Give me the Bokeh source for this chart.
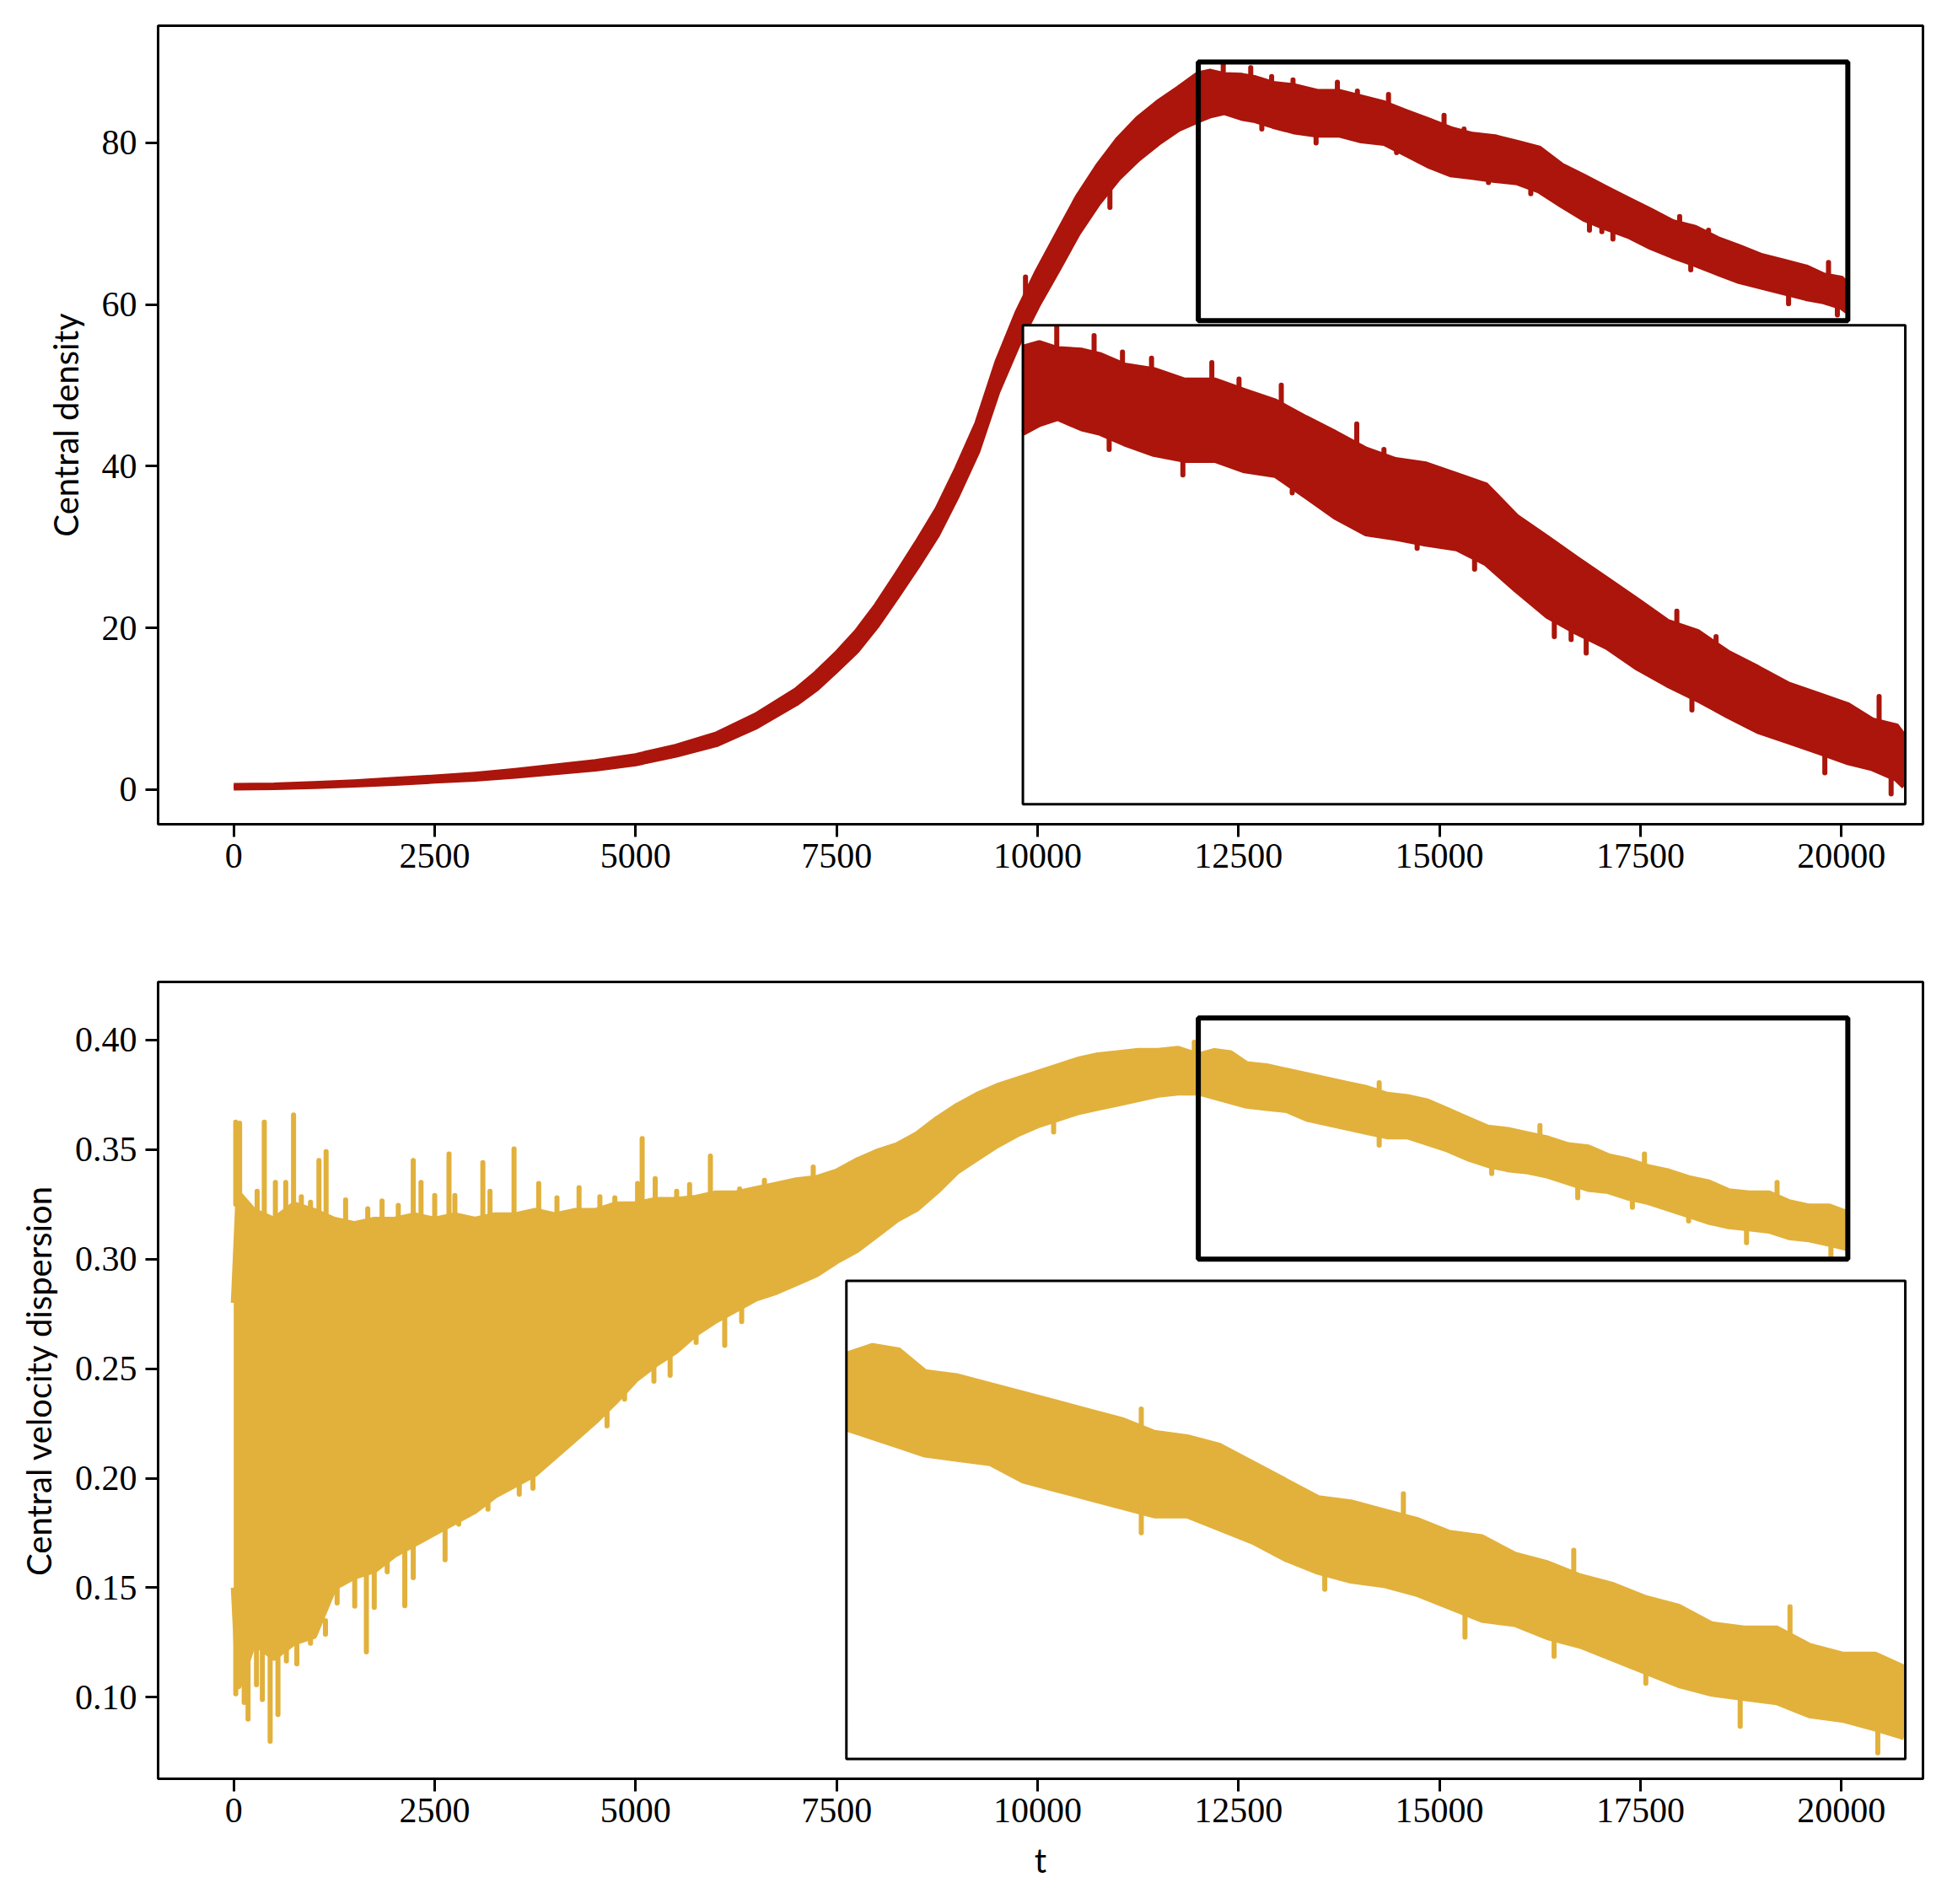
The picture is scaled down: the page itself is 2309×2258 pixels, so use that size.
import numpy as np
from bokeh.plotting import figure
from bokeh.models import Range1d, FixedTicker, PrintfTickFormatter
from bokeh.layouts import column
from bokeh.embed import file_html
from bokeh.resources import INLINE

# ---------------- data ----------------
# Central density: time samples with lower / upper edge of the noisy trace
t_rho = [0, 500, 1000, 1500, 2000, 2500, 3000, 3500, 4000, 4500, 5000, 5500, 6000, 6500,
         7000, 7250, 7500, 7750, 8000, 8250, 8500, 8750, 9000, 9250, 9500, 9750, 10000,
         10250, 10500, 10750, 11000, 11250, 11500, 11750, 12000, 12150, 12320, 12540, 12710,
         12930, 13200, 13480, 13760, 14030, 14310, 14590, 14860, 15140, 15410, 15690, 15970,
         16240, 16520, 16800, 17070, 17350, 17630, 17900, 18180, 18460, 18730, 19010, 19290,
         19560, 19780, 20000, 20070]
rho_lo = [0.25, 0.3, 0.42, 0.6, 0.82, 1.1, 1.35, 1.7, 2.15, 2.6, 3.25, 4.3, 5.6, 7.8,
          10.7, 12.5, 14.8, 17.2, 20.3, 23.9, 27.6, 31.5, 36.4, 41.8, 49.2, 55.0, 59.9,
          64.3, 68.8, 72.5, 75.6, 78.0, 80.0, 81.7, 82.8, 83.4, 83.8, 83.1, 82.8,
          82.1, 81.4, 81.0, 81.0, 80.3, 80.0, 78.6, 77.2, 76.1, 75.8, 75.4, 75.1,
          74.1, 72.3, 70.6, 69.5, 68.5, 67.1, 66.0, 65.0, 63.9, 62.9, 62.2, 61.5,
          60.8, 60.4, 59.7, 59.2]
rho_hi = [0.45, 0.5, 0.68, 0.9, 1.2, 1.5, 1.85, 2.3, 2.85, 3.4, 4.15, 5.3, 6.8, 9.2,
          12.3, 14.4, 16.8, 19.5, 22.8, 26.6, 30.5, 34.6, 39.7, 45.3, 52.9, 59.0, 64.1,
          68.7, 73.3, 77.1, 80.4, 83.0, 85.0, 86.7, 88.5, 88.8, 88.4, 88.3, 88.0,
          87.3, 87.0, 86.3, 86.3, 85.6, 84.9, 83.8, 82.8, 81.7, 81.0, 80.7, 80.0,
          79.3, 77.2, 75.8, 74.4, 73.0, 71.6, 70.2, 69.5, 68.1, 67.1, 66.0, 65.3,
          64.6, 63.6, 63.2, 62.5]
# isolated spikes of the density trace: time, start value, tip value
spk_rho_t = [9850, 12310, 12652, 12912, 13178, 13730, 13979, 14366, 15057, 15306, 17988,
             18347, 19840,
             10900, 12790, 13465, 14466, 15610, 16136, 16866, 17020, 17158, 18126, 19343,
             19950]
spk_rho_a = [60.5, 88.0, 87.8, 87.0, 86.5, 86.0, 85.3, 84.6, 81.8, 80.9, 69.8,
             68.8, 63.3,
             75.0, 82.6, 81.0, 79.0, 75.5, 74.6, 70.4, 69.9, 69.3, 65.2, 61.4,
             59.9]
spk_rho_b = [63.4, 89.86, 89.3, 88.2, 87.8, 87.5, 86.4, 86.0, 83.4, 81.7, 70.9,
             69.2, 65.2,
             72.0, 81.7, 80.0, 78.8, 75.1, 73.7, 69.2, 69.0, 68.1, 64.3, 60.1,
             58.7]

# Central velocity dispersion
t_sig = [0, 60, 250, 500, 750, 1000, 1250, 1500, 1750, 2000, 2250, 2500, 2750, 3000,
         3250, 3500, 3750, 4000, 4250, 4500, 4750, 5000, 5250, 5500, 5750, 6000, 6250,
         6500, 6750, 7000, 7250, 7500, 7750, 8000, 8250, 8500, 8750, 9000, 9250, 9500,
         9750, 10000, 10250, 10500, 10750, 11000, 11250, 11500, 11750, 12000, 12200,
         12400, 12600, 12850, 13100, 13350, 13600, 13850, 14100, 14350, 14600, 14850,
         15100, 15350, 15600, 15850, 16100, 16350, 16600, 16850, 17100, 17350, 17600,
         17850, 18100, 18350, 18600, 18850, 19100, 19350, 19600, 19850, 20070]
sig_lo = [0.150, 0.105, 0.125, 0.118, 0.125, 0.128, 0.150, 0.155, 0.158, 0.165, 0.170,
          0.175, 0.180, 0.185, 0.192, 0.197, 0.202, 0.210, 0.218, 0.226, 0.235, 0.245,
          0.252, 0.258, 0.266, 0.272, 0.277, 0.282, 0.285, 0.289, 0.293, 0.299, 0.304,
          0.311, 0.318, 0.323, 0.331, 0.340, 0.346, 0.352, 0.357, 0.361, 0.364, 0.367,
          0.369, 0.371, 0.373, 0.375, 0.376, 0.376, 0.374, 0.372, 0.370, 0.369, 0.368,
          0.364, 0.362, 0.360, 0.358, 0.356, 0.356, 0.353, 0.350, 0.346, 0.343, 0.341,
          0.340, 0.338, 0.335, 0.332, 0.331, 0.328, 0.326, 0.323, 0.320, 0.317, 0.315,
          0.314, 0.313, 0.310, 0.309, 0.307, 0.305]
sig_hi = [0.280, 0.330, 0.322, 0.318, 0.325, 0.322, 0.318, 0.316, 0.318, 0.318, 0.320,
          0.318, 0.320, 0.318, 0.320, 0.320, 0.322, 0.320, 0.322, 0.322, 0.325, 0.325,
          0.327, 0.327, 0.328, 0.330, 0.330, 0.332, 0.334, 0.336, 0.337, 0.340, 0.345,
          0.349, 0.352, 0.357, 0.364, 0.370, 0.375, 0.379, 0.382, 0.385, 0.388, 0.391,
          0.393, 0.394, 0.395, 0.395, 0.396, 0.393, 0.395, 0.394, 0.389, 0.388, 0.386,
          0.384, 0.382, 0.380, 0.378, 0.375, 0.374, 0.372, 0.368, 0.364, 0.360, 0.359,
          0.357, 0.355, 0.352, 0.351, 0.347, 0.345, 0.342, 0.340, 0.337, 0.335, 0.331,
          0.330, 0.330, 0.326, 0.324, 0.324, 0.321]
spk_sig_t = [25, 73, 194, 291, 380, 518, 647, 744, 841, 955, 1060, 1149, 1392, 1667, 1845,
             2047, 2233, 2330, 2500, 2678, 2751, 3099, 3188, 3487, 3794, 4021, 4296, 4555,
             4741, 5024, 5081, 5243, 5510, 5671, 5930, 6294, 6602, 7209, 11950, 14250,
             16250, 17550, 19200,
             25, 130, 178, 283, 356, 453, 550, 655, 785, 955, 1141, 1286, 1505, 1650, 1748,
             1909, 2128, 2233, 2629, 2799, 3163, 3552, 3722, 4644, 4862, 5227, 5429, 5752,
             6108, 6319, 10200, 14250, 15650, 16720, 17400, 18100, 18820, 19870]
spk_sig_a = [0.325, 0.325, 0.318, 0.318, 0.318, 0.315, 0.318, 0.318, 0.318, 0.318, 0.318,
             0.318, 0.315, 0.315, 0.315, 0.315, 0.316, 0.316, 0.315, 0.316, 0.316, 0.315,
             0.316, 0.316, 0.318, 0.316, 0.318, 0.318, 0.320, 0.320, 0.320, 0.322, 0.322,
             0.323, 0.325, 0.326, 0.328, 0.333, 0.392, 0.374, 0.354, 0.341, 0.327,
             0.130, 0.130, 0.130, 0.130, 0.130, 0.125, 0.125, 0.130, 0.130, 0.135, 0.135,
             0.155, 0.160, 0.160, 0.162, 0.165, 0.172, 0.175, 0.182, 0.184, 0.192, 0.200,
             0.205, 0.232, 0.242, 0.252, 0.258, 0.268, 0.276, 0.281, 0.366, 0.359, 0.345,
             0.336, 0.330, 0.322, 0.316, 0.309]
spk_sig_b = [0.3625, 0.362, 0.3245, 0.331, 0.3625, 0.335, 0.335, 0.3658, 0.3285, 0.326,
             0.345, 0.349, 0.327, 0.323, 0.3265, 0.3245, 0.345, 0.335, 0.329, 0.348, 0.329,
             0.344, 0.331, 0.3503, 0.3345, 0.328, 0.3326, 0.3285, 0.328, 0.3345, 0.355,
             0.3367, 0.331, 0.334, 0.347, 0.332, 0.336, 0.342, 0.399, 0.3805, 0.361, 0.348,
             0.335,
             0.1016, 0.0976, 0.090, 0.1057, 0.099, 0.0799, 0.0921, 0.1166, 0.1152, 0.1247,
             0.1288, 0.143, 0.1416, 0.1207, 0.141, 0.1573, 0.1418, 0.1546, 0.1628, 0.179,
             0.1859, 0.1927, 0.1954, 0.2239, 0.2361, 0.2443, 0.247, 0.262, 0.2606, 0.2715,
             0.358, 0.352, 0.339, 0.328, 0.3236, 0.3174, 0.3075, 0.3014]

x_ticks = [0, 2500, 5000, 7500, 10000, 12500, 15000, 17500, 20000]
rho_ticks = [0, 20, 40, 60, 80]
sig_ticks = [0.10, 0.15, 0.20, 0.25, 0.30, 0.35, 0.40]

# zoom window (indicated rectangle == inset limits)
zoom_t = [12000, 20080]
zoom_rho = [58, 90]
zoom_sig = [0.30, 0.41]

RED = "#AB150B"
GOLD = "#E2B13C"
TICK_FONT = "Liberation Serif"
LABEL_FONT = "Lato"


def frame_range(a, b, f0, f1):
    """Range for an extra scale so that [a, b] maps onto frame fractions [f0, f1]."""
    span = (b - a) / (f1 - f0)
    s = a - f0 * span
    return Range1d(s, s + span)


def draw_trace(p, t, lo, hi, st, sa, sb, color, tmin=None, **rn):
    t = np.asarray(t, float); lo = np.asarray(lo, float); hi = np.asarray(hi, float)
    st = np.asarray(st, float); sa = np.asarray(sa, float); sb = np.asarray(sb, float)
    if tmin is not None:
        m = t >= tmin
        t, lo, hi = t[m], lo[m], hi[m]
        ms = st >= tmin
        st, sa, sb = st[ms], sa[ms], sb[ms]
    p.varea(x=t, y1=lo, y2=hi, fill_color=color, **rn)
    p.line(t, lo, line_color=color, line_width=7, line_join="round", **rn)
    p.line(t, hi, line_color=color, line_width=7, line_join="round", **rn)
    p.segment(x0=st, y0=sa, x1=st, y1=sb, line_color=color, line_width=6,
              line_cap="round", **rn)


def panel(t, lo, hi, st, sa, sb, color, yr, yticks, yfmt, ylabel, xlabel, zoom_y,
          inset_frac, b_top, b_bottom, frame_h):
    p = figure(frame_width=2093, frame_height=frame_h,
               x_range=Range1d(-941, 21015), y_range=Range1d(*yr),
               output_backend="svg", toolbar_location=None,
               min_border_left=187, min_border_right=13,
               min_border_top=b_top, min_border_bottom=b_bottom)
    p.grid.visible = False
    p.outline_line_color = "black"
    p.outline_line_width = 3
    p.background_fill_color = "white"
    p.border_fill_color = "white"

    for ax in (p.xaxis[0], p.yaxis[0]):
        ax.axis_line_width = 3
        ax.major_tick_line_width = 3
        ax.major_tick_out = 15
        ax.major_tick_in = 0
        ax.minor_tick_out = 0
        ax.minor_tick_in = 0
        ax.major_label_text_font = TICK_FONT
        ax.major_label_text_font_size = "42px"
        ax.major_label_text_color = "black"
        ax.axis_label_text_font = LABEL_FONT
        ax.axis_label_text_font_size = "40px"
        ax.axis_label_text_font_style = "normal"
        ax.axis_label_text_color = "black"
    p.xaxis.ticker = FixedTicker(ticks=x_ticks)
    p.xaxis.formatter = PrintfTickFormatter(format="%d")
    p.xaxis.major_label_standoff = 8
    p.yaxis.ticker = FixedTicker(ticks=yticks)
    p.yaxis.formatter = PrintfTickFormatter(format=yfmt)
    p.yaxis.major_label_standoff = 10
    p.yaxis.axis_label = ylabel
    p.yaxis.axis_label_standoff = 16
    if xlabel:
        p.xaxis.axis_label = xlabel
        p.xaxis.axis_label_standoff = 18

    # main trace
    draw_trace(p, t, lo, hi, st, sa, sb, color)
    # indicated rectangle
    p.quad(left=[zoom_t[0]], right=[zoom_t[1]], bottom=[zoom_y[0]], top=[zoom_y[1]],
           fill_color=None, line_color="black", line_width=6)

    # inset axes drawn through extra scales
    fx0, fy0, fx1, fy1 = inset_frac
    p.extra_x_ranges = {"ix": frame_range(zoom_t[0], zoom_t[1], fx0, fx1)}
    p.extra_y_ranges = {"iy": frame_range(zoom_y[0], zoom_y[1], fy0, fy1)}
    rn = dict(x_range_name="ix", y_range_name="iy")
    p.quad(left=[zoom_t[0]], right=[zoom_t[1]], bottom=[zoom_y[0]], top=[zoom_y[1]],
           fill_color="white", line_color=None, **rn)
    draw_trace(p, t, lo, hi, st, sa, sb, color, tmin=zoom_t[0], **rn)
    p.quad(left=[zoom_t[0]], right=[zoom_t[1]], bottom=[zoom_y[0]], top=[zoom_y[1]],
           fill_color=None, line_color="black", line_width=3, **rn)
    return p


p1 = panel(t_rho, rho_lo, rho_hi, spk_rho_t, spk_rho_a, spk_rho_b, RED,
           (-4.29, 94.49), rho_ticks, "%d", "Central density", None, zoom_rho,
           (0.49, 0.025, 0.99, 0.625), 30, 100, 947)
p2 = panel(t_sig, sig_lo, sig_hi, spk_sig_t, spk_sig_a, spk_sig_b, GOLD,
           (0.0628, 0.4265), sig_ticks, "%.2f", "Central velocity dispersion", "t",
           zoom_sig, (0.39, 0.025, 0.99, 0.625), 87, 130, 945)

layout = column(p1, p2, spacing=0)
open("out.html", "w").write(file_html(layout, INLINE))
